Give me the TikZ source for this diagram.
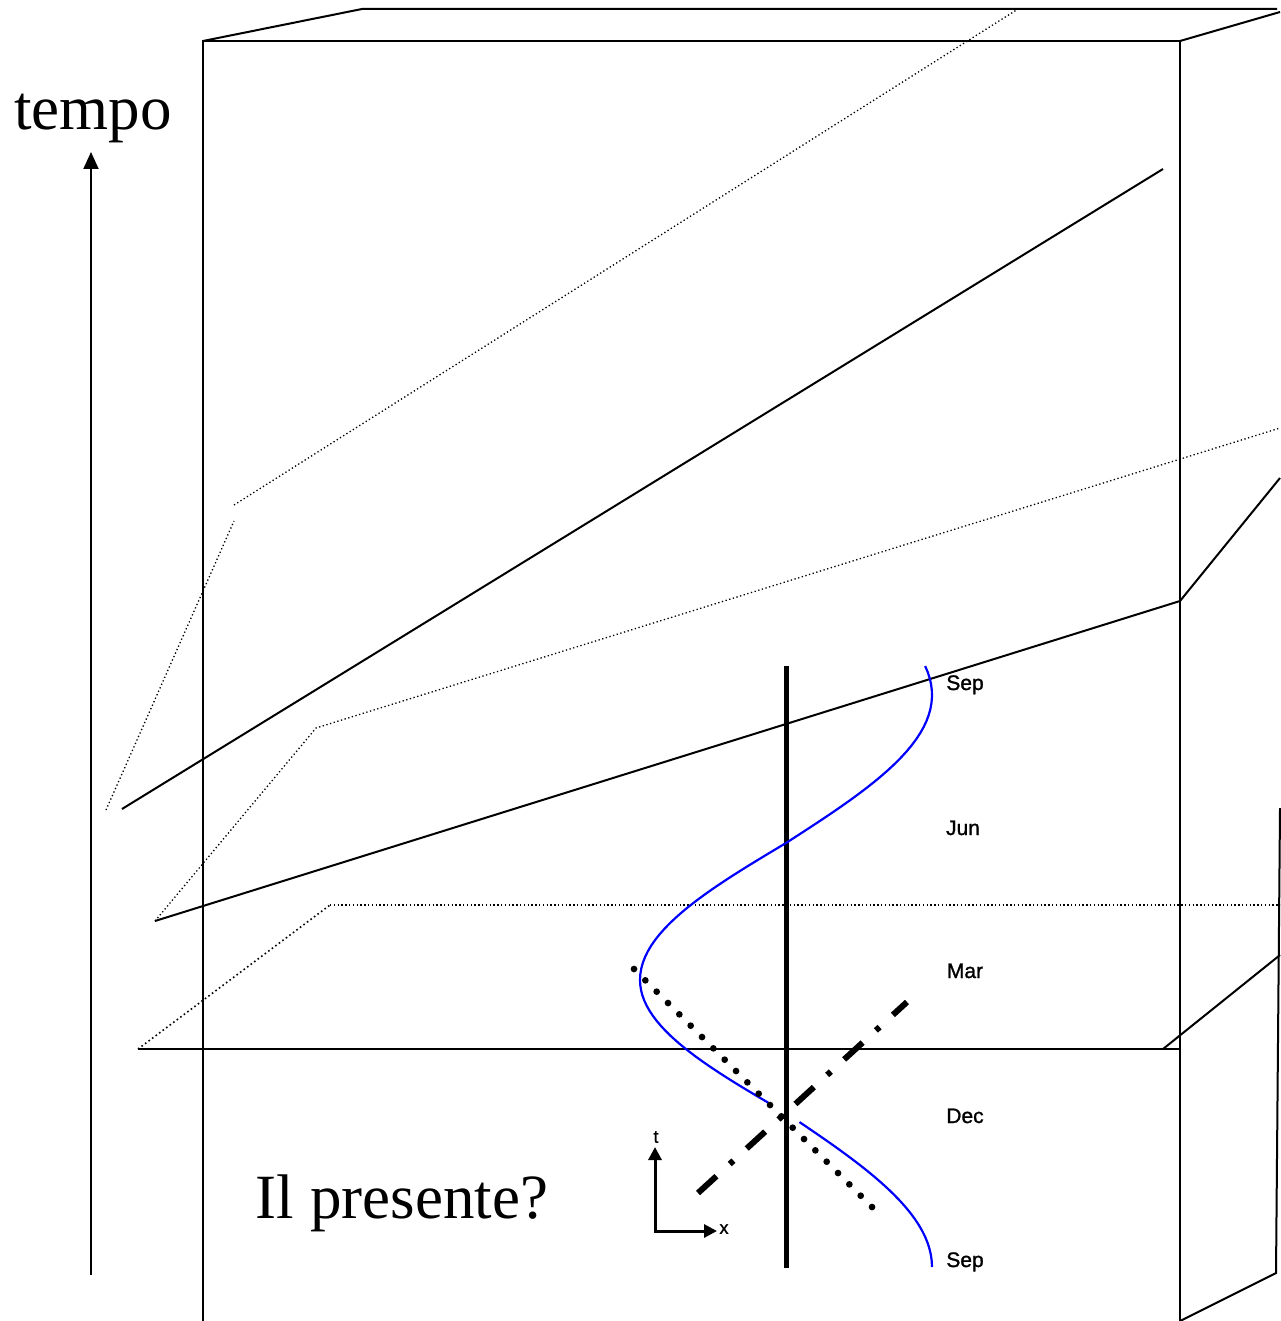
\documentclass[tikz,border=0pt]{standalone}
\usepackage{fontspec}
\setmainfont{Liberation Serif}
\newfontfamily\labfont[AutoFakeBold=1.2]{Liberation Sans}
\usetikzlibrary{arrows.meta}
\begin{document}
\begin{tikzpicture}[x=1pt,y=-1pt,
  edge/.style={line width=2pt, line join=miter},
  fineline/.style={line width=1.6pt},
  finedots/.style={line width=1.3pt, dash pattern=on 1.3pt off 2.5pt},
  helix/.style={blue, line width=2.2pt},
  bigtext/.style={font=\fontsize{63}{63}\selectfont, inner sep=0pt, anchor=base},
  month/.style={font=\labfont\bfseries\fontsize{21}{21}\selectfont, inner sep=0pt, anchor=base},
  axlab/.style={font=\labfont\bfseries\fontsize{18}{18}\selectfont, inner sep=0pt},
]
\useasboundingbox (0,0) rectangle (1280,1321);

% box
\draw[edge] (203,1321) -- (203,41) -- (1180,41) -- (1180,1321);
\draw[edge] (203,41) -- (362,9) -- (1277,9);
\draw[edge] (1180,41) -- (1280,12);
\draw[edge] (1180,1321) -- (1276,1273) -- (1280,808);

% time axis
\draw[line width=2pt, -{Triangle[length=17pt,width=15pt]}] (91,1275) -- (91,152);
\node[bigtext] (tempo) at (93,130) {tempo};

% planes (dotted)
\draw[finedots] (106,810) -- (234,521);
\draw[finedots] (234,505) -- (1018,9);
\draw[finedots] (155,921) -- (316,728) -- (1280,428);
\draw[line width=1.6pt, dash pattern=on 1.6pt off 2.8pt] (138,1049) -- (330,905);
\draw[finedots] (330,905) -- (1280,905);

% planes (solid)
\draw[edge] (122,809) -- (1163,169);
\draw[edge] (155,921) -- (1180,601) -- (1280,478);
\draw[fineline] (138,1049) -- (1180,1049);
\draw[edge] (1163,1049) -- (1280,955);

% vertical world line
\draw[line width=5pt] (786,666) -- (786,1268);

% helix
\draw[helix] plot[domain=-17.6:90,samples=30] ({786+146*cos(\x)},{695+148*\x/90})
  -- plot[domain=90:180,samples=25] ({786+146*cos(\x)},{843+137*(\x-90)/90})
  -- plot[domain=180:263,samples=25] ({786+146*cos(\x)},{980+133*(\x-180)/90});
\draw[helix] plot[domain=275.3:360,samples=25] ({786+146*cos(\x)},{1113+154*(\x-270)/90});

% dotted light line
\draw[line width=6.7pt, line cap=round, dash pattern=on 0pt off 16.03pt] (634,969) -- (872.6,1207.6);

% dash-dot line
\draw[line width=6pt, dash pattern=on 25pt off 18pt on 5pt off 18pt] (698,1193) -- (907,1002);

% small axes
\draw[line width=3pt, line join=miter, {Triangle[length=13pt,width=13pt]}-{Triangle[length=13pt,width=13pt]}]
  (655,1147) -- (655,1231) -- (717,1231);
\node[axlab] (t) at (656,1137) {t};
\node[axlab] (x) at (724,1229) {x};

% month labels
\node[month] (sep1) at (965,690) {Sep};
\node[month] (jun) at (963,835) {Jun};
\node[month] (mar) at (965,978) {Mar};
\node[month] (dec) at (965,1123) {Dec};
\node[month] (sep2) at (965,1267) {Sep};

\node[bigtext] (pres) at (402,1218) {Il presente?};
\end{tikzpicture}
\end{document}
